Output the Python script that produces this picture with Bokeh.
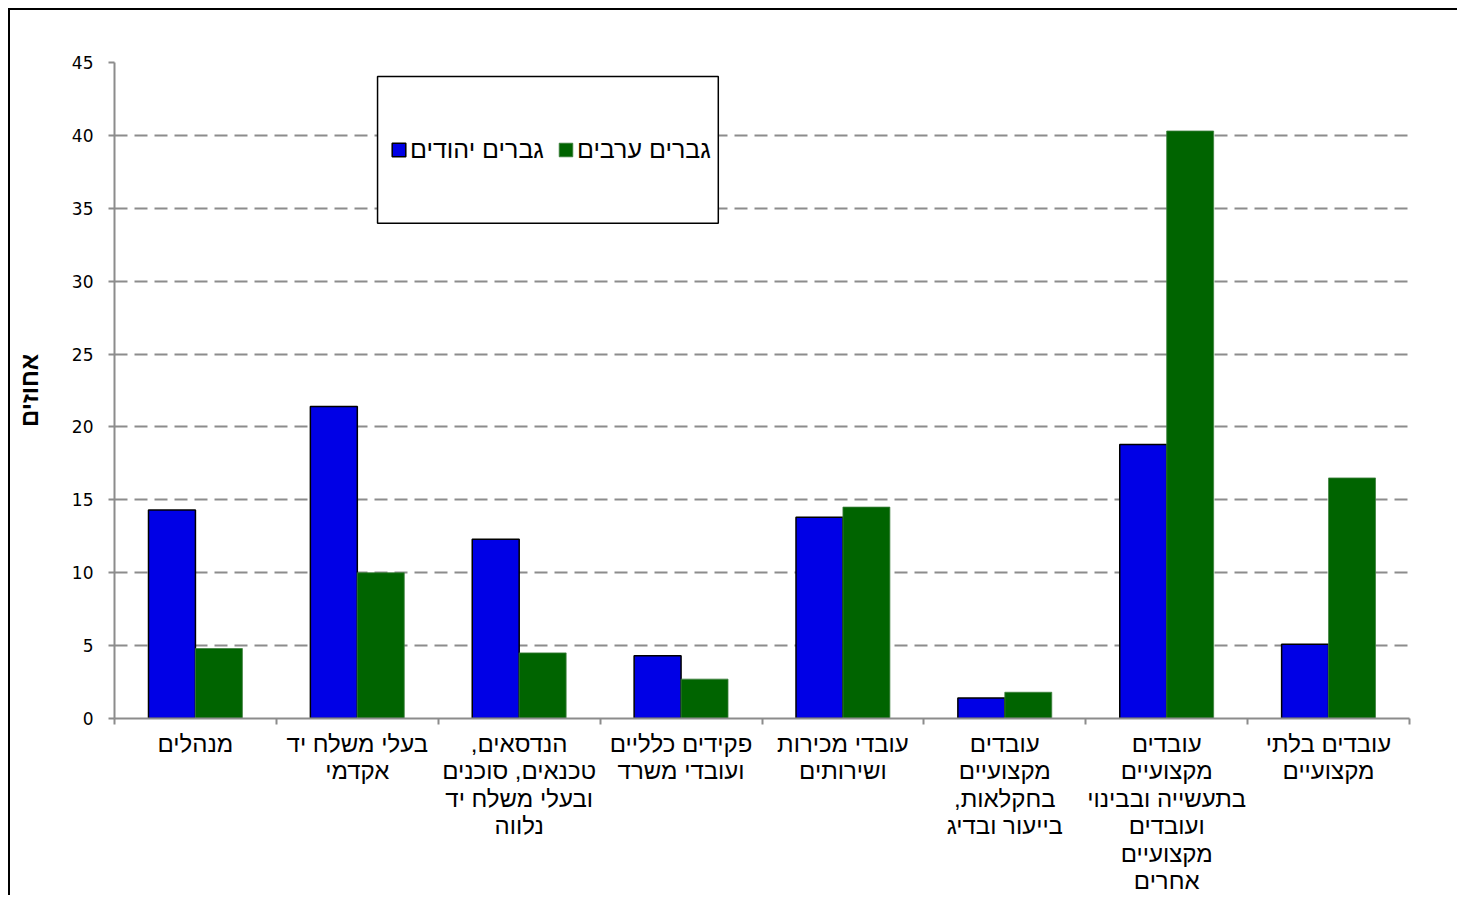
from bokeh.plotting import figure
from bokeh.models import Range1d, FixedTicker, Legend, LegendItem, BoxAnnotation
from bokeh.embed import file_html
from bokeh.resources import INLINE

# ---- data ----
categories = [
    "מנהלים",
    "בעלי משלח יד\nאקדמי",
    "הנדסאים,\u200f\nטכנאים, סוכנים\nובעלי משלח יד\nנלווה",
    "פקידים כלליים\nועובדי משרד",
    "עובדי מכירות\nושירותים",
    "עובדים\nמקצועיים\nבחקלאות,\u200f\nבייעור ובדיג",
    "עובדים\nמקצועיים\nבתעשייה ובבינוי\nועובדים\nמקצועיים\nאחרים",
    "עובדים בלתי\nמקצועיים",
]
jewish_men = [14.3, 21.4, 12.3, 4.3, 13.8, 1.4, 18.8, 5.1]
arab_men = [4.8, 10.0, 4.5, 2.7, 14.5, 1.8, 40.3, 16.5]
series_names = ["גברים יהודים", "גברים ערבים"]
y_ticks = [0, 5, 10, 15, 20, 25, 30, 35, 40, 45]
y_label = "אחוזים"

# ---- styles ----
BLUE = "#0000e6"
GREEN = "#006400"
GRID = "#8c8c8c"
HEB_FONT = "Liberation Sans"
NUM_FONT = "DejaVu Sans"

W, H = 1449, 887
n = len(categories)
centers = [i + 0.5 for i in range(n)]
bar_w = 0.29

p = figure(width=W, height=H, output_backend="svg", toolbar_location=None,
           x_range=Range1d(0, n), y_range=Range1d(0, 45),
           min_border_left=104, min_border_right=50,
           min_border_top=52, min_border_bottom=178)
p.styles = {"margin-left": "8px", "margin-top": "8px",
            "border-left": "2px solid black", "border-top": "2px solid black"}
p.outline_line_color = None
p.background_fill_color = "white"
p.border_fill_color = "white"

x_j = [c - bar_w / 2 for c in centers]
x_a = [c + bar_w / 2 for c in centers]
r_j = p.vbar(x=x_j, top=jewish_men, width=bar_w, bottom=0,
             fill_color=BLUE, line_color="black", line_width=1.5)
r_a = p.vbar(x=x_a, top=arab_men, width=bar_w, bottom=0,
             fill_color=GREEN, line_color="#3d7f3d", line_width=0.8)

# grid
p.xgrid.visible = False
p.ygrid.ticker = FixedTicker(ticks=y_ticks)
p.ygrid.grid_line_color = GRID
p.ygrid.grid_line_width = 2
p.ygrid.grid_line_dash = "13 7"

# y axis
p.yaxis.ticker = FixedTicker(ticks=y_ticks)
p.yaxis.axis_line_color = GRID
p.yaxis.axis_line_width = 2
p.yaxis.major_tick_line_color = GRID
p.yaxis.major_tick_line_width = 2
p.yaxis.major_tick_out = 6
p.yaxis.major_tick_in = 0
p.yaxis.minor_tick_line_color = None
p.yaxis.major_label_text_font = NUM_FONT
p.yaxis.major_label_text_font_size = "17px"
p.yaxis.major_label_text_color = "black"
p.yaxis.major_label_standoff = 15
p.yaxis.axis_label = y_label
p.yaxis.axis_label_text_font = HEB_FONT
p.yaxis.axis_label_text_font_size = "24px"
p.yaxis.axis_label_text_font_style = "bold"
p.yaxis.axis_label_text_color = "black"
p.yaxis.axis_label_standoff = 26

# x axis
p.xaxis.ticker = FixedTicker(ticks=centers, minor_ticks=list(range(n + 1)))
p.xaxis.major_label_overrides = {c: lab for c, lab in zip(centers, categories)}
p.xaxis.axis_line_color = GRID
p.xaxis.axis_line_width = 2
p.xaxis.major_tick_line_color = None
p.xaxis.major_tick_out = 0
p.xaxis.major_tick_in = 0
p.xaxis.minor_tick_line_color = GRID
p.xaxis.minor_tick_line_width = 2
p.xaxis.minor_tick_out = 6
p.xaxis.minor_tick_in = 0
p.xaxis.major_label_text_font = HEB_FONT
p.xaxis.major_label_text_font_size = "24px"
p.xaxis.major_label_text_color = "black"
p.xaxis.major_label_text_line_height = 1.02
p.xaxis.major_label_standoff = 5

# legend box
legend_box = dict(left=1.625, right=3.73, top=44.04, bottom=33.97)
box = BoxAnnotation(**legend_box, fill_color="white", fill_alpha=1.0,
                    line_color="black", line_alpha=1.0, line_width=1.5,
                    level="annotation")
p.add_layout(box)

legend = Legend(items=[LegendItem(label=series_names[0], renderers=[r_j]),
                       LegendItem(label=series_names[1], renderers=[r_a])],
                orientation="horizontal", location=(276, 554),
                padding=0, margin=0, border_line_color=None,
                background_fill_alpha=0, glyph_width=17, glyph_height=17,
                label_standoff=3, spacing=13,
                label_text_font=HEB_FONT, label_text_font_size="25px",
                label_text_color="black")
p.add_layout(legend)

open("out.html", "w").write(file_html(p, INLINE))
